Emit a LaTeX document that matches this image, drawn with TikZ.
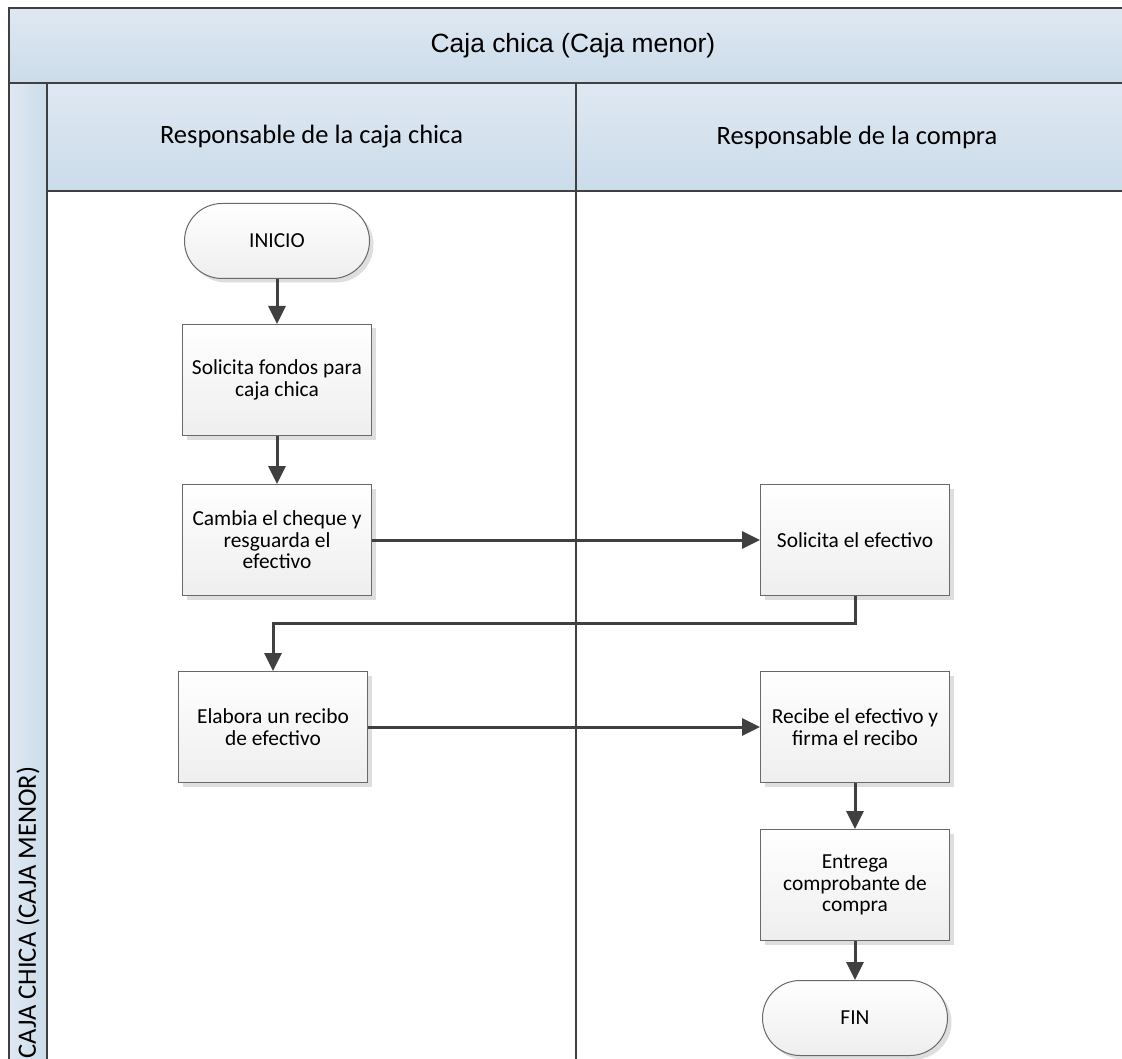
\documentclass[tikz,border=0pt]{standalone}
\usepackage{fontspec}
\setmainfont{Carlito}
\newfontfamily\titlefont{Liberation Sans}
\usepackage{tikz}
\usetikzlibrary{arrows.meta,positioning,shapes.misc,shadows}
\usepackage{xcolor}
\definecolor{lanetop}{RGB}{223,232,242}
\definecolor{lanebottom}{RGB}{203,220,234}
\definecolor{linegray}{RGB}{64,64,64}
\definecolor{boxedge}{RGB}{105,105,105}
\definecolor{boxbottom}{RGB}{238,238,238}

\tikzset{
  procbox/.style={draw=boxedge, line width=1pt, top color=white, bottom color=boxbottom,
    minimum width=189pt, minimum height=111pt, align=center, inner sep=2pt,
    drop shadow={shadow xshift=4pt, shadow yshift=-4pt, fill=black!13, opacity=1}},
  terminal/.style={procbox, rounded rectangle, minimum height=75pt},
  flow/.style={draw=linegray, line width=3pt, -{Triangle[length=18pt,width=17pt]}},
  lanehead/.style={font=\fontsize{26.5}{30}\selectfont},
  poolline/.style={draw=linegray, line width=2.5pt}
}

\begin{document}
\begin{tikzpicture}[x=1pt, y=-1pt, every node/.style={font=\fontsize{21.4}{21.5}\selectfont}]
        \useasboundingbox (0,0) rectangle (1122,1059);
        \fill[white] (0,0) rectangle (1122,1059);
        % pool and lanes
        \fill[top color=lanetop, bottom color=lanebottom] (9,8) rectangle (1140,83);
        \fill[top color=lanetop, bottom color=lanebottom] (47,83) rectangle (1140,191);
        \fill[left color=lanetop, right color=lanebottom] (9,83) rectangle (47,1070);
        \draw[poolline] (9,1070) -- (9,8) -- (1140,8);
        \draw[poolline] (9,83) -- (1140,83);
        \draw[poolline] (47,83) -- (47,1070);
        \draw[poolline] (47,191) -- (1140,191);
        \draw[poolline] (576,83) -- (576,1070);
        \node[font=\titlefont\fontsize{26.4}{30}\selectfont] (title) at (573,46) {Caja chica (Caja menor)};
        \node[lanehead] (lanecaja) at (311.5,137) {Responsable de la caja chica};
        \node[lanehead] (lanecompra) at (857,137) {Responsable de la compra};
        \node[lanehead, rotate=90, anchor=west] (poollabel) at (28,1062) {CAJA CHICA (CAJA MENOR)};
        % steps
        \node[terminal] (inicio) at (277,241) {INICIO};
        \node[procbox] (fondos) at (277,380) {Solicita fondos para\\caja chica};
        \node[procbox] (cambia) at (277,540) {Cambia el cheque y\\resguarda el\\efectivo};
        \node[procbox] (solicita) at (855,540) {Solicita el efectivo};
        \node[procbox] (elabora) at (273,727) {Elabora un recibo\\de efectivo};
        \node[procbox] (recibe) at (855,727) {Recibe el efectivo y\\firma el recibo};
        \node[procbox] (entrega) at (855,885) {Entrega\\comprobante de\\compra};
        \node[terminal] (fin) at (855,1018) {FIN};
        % connectors
        \draw[flow] (inicio) -- (fondos);
        \draw[flow] (fondos) -- (cambia);
        \draw[flow] (cambia) -- (solicita);
        \draw[flow] (solicita.south) -- ++(0,27) -| (elabora.north);
        \draw[flow] (elabora) -- (recibe);
        \draw[flow] (recibe) -- (entrega);
        \draw[flow] (entrega) -- (fin);
\end{tikzpicture}
\end{document}
